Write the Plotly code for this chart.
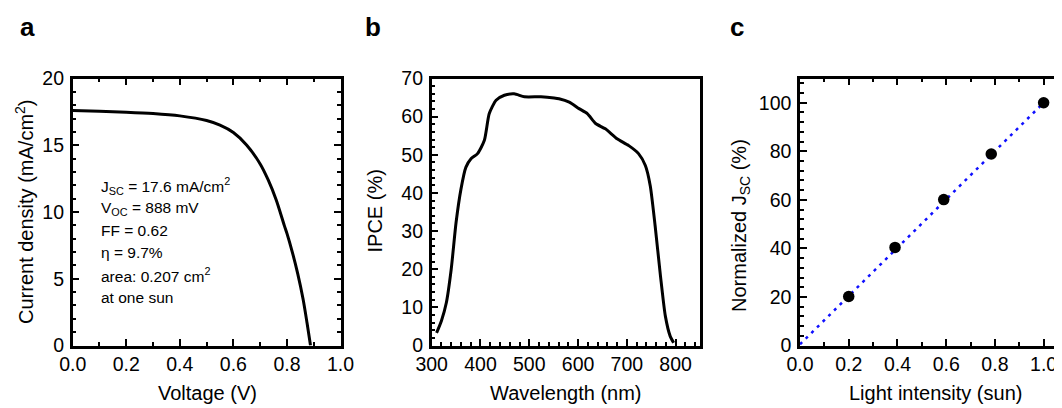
import plotly.graph_objects as go

# ---------------- data ----------------
voltage = [0.0, 0.1, 0.2, 0.3, 0.4, 0.5, 0.55, 0.6, 0.65, 0.7, 0.73, 0.76,
           0.79, 0.8, 0.82, 0.84, 0.86, 0.875, 0.888]
current_density = [17.6, 17.55, 17.48, 17.38, 17.2, 16.85, 16.5, 15.95, 15.0,
                   13.6, 12.4, 10.9, 9.0, 8.4, 7.0, 5.4, 3.5, 1.7, 0.0]

wavelength = [310, 320, 330, 340, 350, 360, 370, 381, 394, 408, 418, 432, 449,
              469, 490, 524, 551, 561, 582, 602, 619, 636, 656, 680, 704, 724,
              738, 748, 758, 769, 779, 789, 796]
ipce = [3.3, 6.5, 11.2, 20.0, 32.3, 41.0, 46.7, 49.0, 50.3, 53.8, 60.8, 64.3,
        65.6, 66.0, 65.2, 65.2, 64.9, 64.7, 63.8, 62.1, 60.8, 58.2, 56.8, 54.2,
        52.4, 50.3, 47.2, 41.9, 31.4, 18.2, 7.7, 2.4, 0.7]

light_intensity = [0.2, 0.39, 0.59, 0.785, 1.0]
normalized_jsc = [20.2, 40.4, 60.1, 78.9, 100.0]
fit_intensity = [0.0, 1.0]
fit_jsc = [0.5, 100.0]

info_lines = [
    "J<sub>SC</sub> = 17.6 mA/cm<sup>2</sup>",
    "V<sub>OC</sub> = 888 mV",
    "FF = 0.62",
    "η = 9.7%",
    "area: 0.207 cm<sup>2</sup>",
    "at one sun",
]

# ---------------- layout helpers ----------------
W, H = 1062, 408
OFF = 8  # page body margin offset
FONT = "Liberation Sans, Arial, Helvetica, sans-serif"


def fx(p):
    return (p - OFF) / W


def fy(p):
    return 1 - (p - OFF) / H


Y_DOM = [fy(345.5), fy(78.5)]


def axis_style(**kw):
    d = dict(
        automargin=False,
        showline=True, linecolor="black", linewidth=2.5,
        ticks="inside", ticklen=7, tickwidth=2, tickcolor="black",
        showgrid=False, zeroline=False,
        tickfont=dict(family=FONT, size=19.5, color="black"),
        minor=dict(ticks="inside", ticklen=4, tickwidth=2, tickcolor="black",
                   showgrid=False),
    )
    d.update(kw)
    return d


fig = go.Figure()

fig.add_trace(go.Scatter(x=voltage, y=current_density, mode="lines",
                         line=dict(color="black", width=3, shape="spline", smoothing=0.8),
                         xaxis="x", yaxis="y", showlegend=False))
fig.add_trace(go.Scatter(x=wavelength, y=ipce, mode="lines",
                         line=dict(color="black", width=3, shape="spline", smoothing=0.6),
                         xaxis="x2", yaxis="y2", showlegend=False))
fig.add_trace(go.Scatter(x=fit_intensity, y=fit_jsc, mode="lines",
                         line=dict(color="#1010ff", width=2.5, dash="3px,5px"),
                         xaxis="x3", yaxis="y3", showlegend=False))
fig.add_trace(go.Scatter(x=light_intensity, y=normalized_jsc, mode="markers",
                         marker=dict(color="black", size=11.5),
                         xaxis="x3", yaxis="y3", showlegend=False))

XLAB_STANDOFF = -1
YLAB_STANDOFF = 2

fig.update_layout(
    template="none",
    width=W, height=H,
    margin=dict(l=0, r=0, t=0, b=0, pad=0, autoexpand=False),
    paper_bgcolor="white", plot_bgcolor="white",
    font=dict(family=FONT, color="black"),
    xaxis=axis_style(domain=[fx(72.7), fx(340.5)], range=[0, 1.0], dtick=0.2,
                     tick0=0, tickformat=".1f", mirror="ticks", anchor="y",
                     minor_dtick=0.1, ticklabelstandoff=XLAB_STANDOFF),
    yaxis=axis_style(domain=Y_DOM, range=[0, 20], dtick=5, tick0=0,
                     mirror="ticks", anchor="x", minor_dtick=1,
                     ticklabelstandoff=YLAB_STANDOFF),
    xaxis2=axis_style(domain=[fx(431.7), fx(700)], range=[300, 850], dtick=100,
                      tick0=300, mirror=True, anchor="y2", minor_dtick=20,
                      ticklabelstandoff=XLAB_STANDOFF),
    yaxis2=axis_style(domain=Y_DOM, range=[0, 70], dtick=10, tick0=0,
                      mirror=True, anchor="x2", minor_dtick=2,
                      ticklabelstandoff=YLAB_STANDOFF),
    xaxis3=axis_style(domain=[fx(800), fx(1068)], range=[0, 1.1], dtick=0.2,
                      tick0=0, tickformat=".1f", mirror="ticks", anchor="y3",
                      minor_dtick=0.1, ticklabelstandoff=XLAB_STANDOFF),
    yaxis3=axis_style(domain=Y_DOM, range=[0, 110], dtick=20, tick0=0,
                      mirror="ticks", anchor="x3", minor_dtick=4,
                      ticklabelstandoff=YLAB_STANDOFF),
)

ann = []
# panel letters
for letter, x in (("a", 18), ("b", 363), ("c", 728)):
    ann.append(dict(text=f"<b>{letter}</b>", x=fx(x), y=fy(27), xref="paper",
                    yref="paper", xanchor="left", yanchor="middle",
                    showarrow=False, font=dict(family=FONT, size=26, color="black")))

TITLE_FONT = dict(family=FONT, size=20, color="black")
# x-axis titles
for t, x in (("Voltage (V)", 207), ("Wavelength (nm)", 566), ("Light intensity (sun)", 935)):
    ann.append(dict(text=t, x=fx(x), y=fy(393), xref="paper", yref="paper",
                    xanchor="center", yanchor="middle", showarrow=False,
                    font=TITLE_FONT))
# y-axis titles
for t, x, y in (("Current density (mA/cm<sup>2</sup>)", 24, 212),
                ("IPCE (%)", 374, 211.5),
                ("Normalized J<sub>SC</sub> (%)", 740, 226)):
    ann.append(dict(text=t, x=fx(x), y=fy(y), xref="paper", yref="paper",
                    xanchor="center", yanchor="middle", textangle=-90,
                    showarrow=False, font=TITLE_FONT))
# info text in panel a
for i, line in enumerate(info_lines):
    ann.append(dict(text=line, x=fx(99), y=fy(186 + 22.3 * i), xref="paper",
                    yref="paper", xanchor="left", yanchor="middle",
                    showarrow=False, font=dict(family=FONT, size=15.5, color="black")))

fig.update_layout(annotations=ann)
fig.write_html("out.html")
